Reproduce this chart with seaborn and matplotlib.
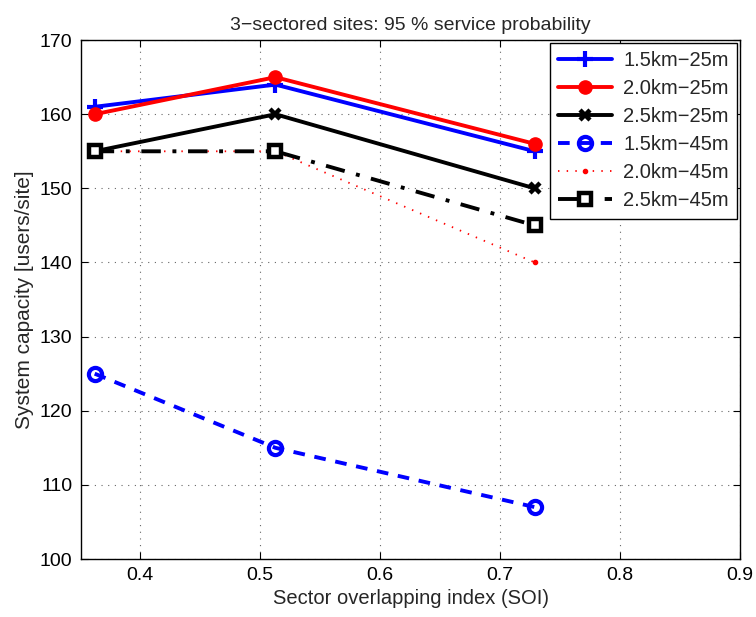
import matplotlib
matplotlib.use("Agg")
import matplotlib.pyplot as plt
import seaborn as sns
import pandas as pd

soi = [0.3625, 0.513, 0.729]
series_names = ["1.5km\u221225m", "2.0km\u221225m", "2.5km\u221225m",
                "1.5km\u221245m", "2.0km\u221245m", "2.5km\u221245m"]
cap_15_25 = [161, 164, 155]
cap_20_25 = [160, 165, 156]
cap_25_25 = [155, 160, 150]
cap_15_45 = [125, 115, 107]
cap_20_45 = [155, 155, 140]
cap_25_45 = [155, 155, 145]
x_ticks = [0.4, 0.5, 0.6, 0.7, 0.8, 0.9]
y_ticks = [100, 110, 120, 130, 140, 150, 160, 170]

sns.set_theme(style="ticks")
plt.rcParams["font.family"] = ["Liberation Sans", "DejaVu Sans"]

values = [cap_15_25, cap_20_25, cap_25_25, cap_15_45, cap_20_45, cap_25_45]
df = pd.DataFrame({
    "soi": soi * len(series_names),
    "capacity": [v for vals in values for v in vals],
    "series": [n for n in series_names for _ in soi],
})

styles = {
    series_names[0]: dict(color="#0000ff", ls="-", marker="+", ms=12, mew=3, lw=2.8, mfc="#0000ff"),
    series_names[1]: dict(color="#ff0000", ls="-", marker="o", ms=9.5, mew=1, lw=2.8, mfc="#ff0000"),
    series_names[2]: dict(color="black", ls="-", marker="x", ms=7, mew=3.2, lw=2.8, mfc="black"),
    series_names[3]: dict(color="#0000ff", ls=(0, (3.0, 2.5)), marker="o", ms=9.5, mew=3, lw=2.8, mfc="none"),
    series_names[4]: dict(color="#ff0000", ls=(0, (0.8, 4.0)), marker=".", ms=6, mew=1, lw=1.3, mfc="#ff0000"),
    series_names[5]: dict(color="black", ls=(0, (5, 3, 1, 3)), marker="s", ms=8.5, mew=3.2, lw=2.8, mfc="white"),
}

fig = plt.figure(figsize=(7.56, 6.17), dpi=100)
ax = fig.add_axes([0.107, 0.094, 0.872, 0.841])

for name in series_names:
    st = styles[name]
    sub = df[df["series"] == name]
    sns.lineplot(data=sub, x="soi", y="capacity", ax=ax, label=name,
                 color=st["color"], linestyle=st["ls"], linewidth=st["lw"],
                 marker=st["marker"], markersize=st["ms"], markeredgewidth=st["mew"],
                 markerfacecolor=st["mfc"], markeredgecolor=st["color"],
                 estimator=None, sort=False)

ax.set_xlim(0.351, 0.9)
ax.set_ylim(100, 170)
ax.set_xticks(x_ticks)
ax.set_yticks(y_ticks)
ax.set_xticklabels([f"{t:g}" for t in x_ticks])
ax.tick_params(direction="in", top=True, right=True, labelsize=14, length=5, width=0.8,
               colors="black", pad=6)
for sp in ax.spines.values():
    sp.set_visible(True)
    sp.set_color("black")
    sp.set_linewidth(1.0)
ax.grid(True, linestyle=(0, (1, 5)), color="black", linewidth=0.8, alpha=0.6)
ax.set_facecolor("white")

ax.set_xlabel("Sector overlapping index (SOI)", fontsize=14.5, labelpad=3)
ax.set_ylabel("System capacity [users/site]", fontsize=15, labelpad=4)
ax.set_title("3\u2212sectored sites: 95 % service probability", fontsize=14, pad=7)

leg = ax.legend(loc="upper right", fontsize=14.5, frameon=True, fancybox=False,
                edgecolor="black", framealpha=1, borderaxespad=0.15,
                handlelength=2.7, labelspacing=0.45, borderpad=0.4, handletextpad=0.55)
leg.get_frame().set_linewidth(1.0)

fig.savefig("out.png", dpi=100, facecolor="white")
